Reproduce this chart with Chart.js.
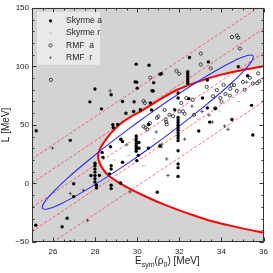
<!DOCTYPE html>
<html>
<head>
<meta charset="utf-8">
<script src="https://cdn.jsdelivr.net/npm/chart.js@4.4.0/dist/chart.umd.min.js"></script>
<style>
  html, body { margin: 0; padding: 0; background: #fff; }
  #wrap { width: 273px; height: 273px; }
</style>
</head>
<body>
<div id="wrap"><canvas id="grafico"></canvas></div>
<script>
// valores: [Esym (MeV), L (MeV)]
const skyrmeA = [
  [29.95,101.9],[27.99,80.6],[27.75,69.7],[29.9,86.7],[28.3,63.7],[29.85,69.8],[29.46,60],[28.84,50.2],
  [28.86,47.8],[25.2,45],[26.82,36.8],[28.33,26.5],[28.37,22.3],[27.99,17.3],[30.56,101],[31.08,93.2],
  [29.97,86.5],[30.78,86.1],[32.4,95.4],[32.4,93.5],[32.4,91.5],[32.4,89.5],[32.4,87.5],[32.4,85.6],
  [32.48,107.6],[33.38,103.8],[34.8,99.6],[35.24,92],[33.33,88.4],[31.15,93.7],[30.76,78.9],[30.68,62.8],
  [29.83,61.4],[30,81.4],[30.7,79.1],[31.94,77.2],[30.15,63],[30.62,68.7],[29.3,70],[28.76,75.7],[29.07,50.4],
  [29.95,40.5],[29.95,38.3],[29.95,36.2],[29.95,34],[29.95,31.8],[29.95,29.7],[29.95,27.5],[30.08,35],
  [30.08,30],[29.98,19.5],[29.22,37.8],[29.3,35.8],[28.73,31.3],[30.53,30.2],[31.07,32],[29.3,18.1],
  [30.54,50.4],[30.05,24],
  [31.94,56.3],[31.94,54.2],[31.94,52],[31.94,49.8],[31.94,47.6],[31.94,45.4],[31.94,43.2],[31.94,41],
  [31.94,38.8],[31.94,36.6],[31.94,27.9],[31.94,16.7],[31.94,13.5],[31.94,6],[31.78,63],[31.94,73],
  [32.45,72.4],[33.1,73],[33.33,64.5],[33.72,63.9],[33.44,52.4],[32.92,44.8],[34.5,54.6],[35.43,66.7],
  [35.49,41.4],[30.95,-7.5],
  [27.99,15.2],[27.99,12.4],[27.99,9.7],[27.99,6.8],[27.99,4],[27.99,1.2],[27.8,6.8],[28.2,6.8],
  [28.06,-1.6],[28.06,-3.8],[26.98,-0.2],[26.98,-11.4],[26.67,-29.7],[26.43,-37],[25.18,-35.6],
  [28.76,15.2],[28.76,12.4],[28.76,-1.6],[28.76,-4.4],[29.2,0.4],[28.68,8.2],[26.82,-50]
];
const skyrmeR = [
  [29.6,24],[30.8,38],[31.7,46],[32.9,55],[33.9,62],[30.3,15],[28.9,20],[34.8,70]
];
const rmfA = [
  [25.9,88.4],[30.62,90.3],[31.86,96.2],[31.99,93.7],[34.5,125],[34.73,126.4],[34.8,124.4],[34.88,115.2],
  [33.02,110.9],[33.02,101.6],[33.49,98.3],[35.35,90.3],[35.74,94],[34.1,84.2],[34.6,84],[35.7,85.6],
  [30.3,70.4],[30.36,68.7],[30.39,47.6],[30.47,46.2],[30.93,56],[31.35,54.6],[31.38,52.5],[31.4,50.4],
  [31.7,57.4],[32.17,61.6],[32.25,59.5],[32.09,68.7],[32.33,73],[32.64,71.5],[33.95,73],[34.42,80.8],
  [34.19,76.3],[34.73,79.1],[33.3,82.5],[33.78,79.7],[34.48,83.9],[35.02,86.7],[35.49,85.3],[35.8,87.3],
  [34,69.8],[33.7,64.2],[32.7,58.6],[32,61.4],[31.53,58.6],[31.3,62.8],[31,57.2],[30.6,51.5],[30.3,48.7],
  [33.6,74.5],[34.4,75],[35.1,80]
];
const rmfR = [
  [28.71,79.1],[25.97,30.2],[35.2,86.5],[31.15,31.3],[31.46,6.8],[34.15,49],[34.31,46.2],[33.57,52.4],
  [33.41,58.3],[27.44,-5.9],[26.82,-8.6],[27.64,-31.7],[29.22,0.4],[29.66,-7.2],[31.16,33.5],[31.4,20.9],
  [32.25,37.8],[33.08,61.4],[29.5,33],[30.9,44],[32.6,66]
];

// contorno vermelho grosso (ramo superior, ponta esquerda, ramo inferior)
const limiteUG = [
  [36,100],[34.9,96.5],[33.9,92.5],[32.9,87],[31.9,80],[31.0,71],[30.2,62],[29.7,57],[29.2,51],
  [28.75,43],[28.45,36],[28.24,30],[28.14,24],[28.2,18],[28.38,12],[28.65,6.5],[29.1,1],[29.7,-5],
  [30.5,-12],[31.2,-17.5],[32.0,-23],[32.8,-28],[33.5,-32],[34.3,-35.5],[35.1,-38.8],[36,-42]
];

// elipse azul
const elipse = [
  [30.12,53.5],[28.84,36.31],[27.67,19.62],[26.69,4.59],[25.98,-7.77],[25.57,-16.62],[25.5,-21.35],
  [25.77,-21.64],[26.36,-17.47],[27.23,-9.13],[28.33,2.82],[29.58,17.57],[30.89,34.1],[32.16,51.29],
  [33.33,67.98],[34.31,82.99],[35.02,95.37],[35.43,104.22],[35.5,108.95],[35.23,109.24],[34.64,105.07],
  [33.77,96.73],[32.67,84.78],[31.42,70.03],[30.12,53.5]
];

// retas tracejadas: L em Esym=25 e em Esym=36
const retasE = [25, 36];
const retasL = [[21, 153], [0.3, 132.3], [-20.4, 111.6], [-41, 91], [-62, 70]];

const xTicks = [26, 28, 30, 32, 34, 36];
const yTicks = [-50, 0, 50, 100, 150];
const xMenor = 0.5;
const yMenor = 10;

const FONTE = '"Liberation Sans", Arial, sans-serif';
Chart.defaults.font.family = FONTE;

const pts = arr => arr.map(p => ({x: p[0], y: p[1]}));

const datasets = [];
datasets.push({
  data: pts(limiteUG), showLine: true, tension: 0.3, pointRadius: 0,
  borderColor: '#ff0000', borderWidth: 2, backgroundColor: '#ffffff',
  fill: 'shape', order: 20, clip: 0
});
retasL.forEach(r => {
  datasets.push({
    data: [{x: retasE[0], y: r[0]}, {x: retasE[1], y: r[1]}],
    showLine: true, pointRadius: 0, borderColor: 'rgba(255,40,40,0.75)',
    borderWidth: 0.9, borderDash: [3, 2], fill: false, order: 15, clip: 0
  });
});
datasets.push({
  data: pts(elipse), showLine: true, tension: 0.4, pointRadius: 0,
  borderColor: '#2a2aff', borderWidth: 1.1, fill: false, order: 14, clip: 0
});
datasets.push({
  data: pts(skyrmeR), pointStyle: 'line', pointRadius: 1.6,
  borderColor: '#b5b5b5', borderWidth: 1, order: 5, clip: 0
});
datasets.push({
  data: pts(rmfR), pointStyle: 'cross', pointRadius: 1.8,
  borderColor: '#444', borderWidth: 0.8, order: 4, clip: 0
});
datasets.push({
  data: pts(rmfA), pointStyle: 'circle', pointRadius: 1.6,
  borderColor: '#333', borderWidth: 0.9, backgroundColor: 'rgba(0,0,0,0)', order: 3, clip: 0
});
datasets.push({
  data: pts(skyrmeA), pointStyle: 'circle', pointRadius: 1.7,
  borderColor: '#000', borderWidth: 0, backgroundColor: '#000', order: 2, clip: 0
});

// fundo cinza da area do grafico
const fundo = {
  id: 'fundo',
  beforeDatasetsDraw(chart) {
    const {ctx, chartArea: a} = chart;
    ctx.save();
    ctx.fillStyle = '#d3d3d3';
    ctx.fillRect(a.left, a.top, a.right - a.left, a.bottom - a.top);
    ctx.restore();
  }
};

// moldura, marcas internas, legenda e titulos
const moldura = {
  id: 'moldura',
  afterDraw(chart) {
    const {ctx, chartArea: a, scales: {x, y}} = chart;
    const l = Math.round(a.left) + 0.5, r = Math.round(a.right) - 0.5;
    const t = Math.round(a.top) + 0.5, b = Math.round(a.bottom) - 0.5;
    ctx.save();
    ctx.strokeStyle = '#333';
    ctx.lineWidth = 1;
    ctx.strokeRect(l, t, r - l, b - t);
    ctx.beginPath();
    for (let v = x.min; v <= x.max + 1e-9; v += xMenor) {
      const px = Math.round(x.getPixelForValue(v)) + 0.5;
      const len = xTicks.includes(v) ? 4 : 2;
      ctx.moveTo(px, b); ctx.lineTo(px, b - len);
      ctx.moveTo(px, t); ctx.lineTo(px, t + len);
    }
    for (let v = y.min; v <= y.max + 1e-9; v += yMenor) {
      const py = Math.round(y.getPixelForValue(v)) + 0.5;
      const len = yTicks.includes(v) ? 4 : 2;
      ctx.moveTo(l, py); ctx.lineTo(l + len, py);
      ctx.moveTo(r, py); ctx.lineTo(r - len, py);
    }
    ctx.stroke();

    // legenda
    const lx = a.left + 5, ly = a.top + 4;
    ctx.fillStyle = 'rgba(255,255,255,0.5)';
    ctx.fillRect(lx, ly, 63, 53);
    const itens = [
      {txt: 'Skyrme a', tipo: 'sa'},
      {txt: 'Skyrme r', tipo: 'sr'},
      {txt: 'RMF  a', tipo: 'ra'},
      {txt: 'RMF  r', tipo: 'rr'}
    ];
    ctx.font = '8.5px ' + FONTE;
    ctx.textBaseline = 'middle';
    itens.forEach((it, i) => {
      const my = ly + 9 + i * 12.3;
      const mx = lx + 13.5;
      if (it.tipo === 'sa') {
        ctx.fillStyle = '#000';
        ctx.beginPath(); ctx.arc(mx, my, 1.6, 0, Math.PI * 2); ctx.fill();
      } else if (it.tipo === 'sr') {
        ctx.strokeStyle = '#c0c0c0'; ctx.lineWidth = 1;
        ctx.beginPath(); ctx.moveTo(mx - 1.5, my); ctx.lineTo(mx + 1.5, my); ctx.stroke();
      } else if (it.tipo === 'ra') {
        ctx.strokeStyle = '#333'; ctx.lineWidth = 0.9;
        ctx.beginPath(); ctx.arc(mx, my, 1.6, 0, Math.PI * 2); ctx.stroke();
      } else {
        ctx.strokeStyle = '#666'; ctx.lineWidth = 0.8;
        ctx.beginPath();
        ctx.moveTo(mx - 1.5, my); ctx.lineTo(mx + 1.5, my);
        ctx.moveTo(mx, my - 1.5); ctx.lineTo(mx, my + 1.5);
        ctx.stroke();
      }
      ctx.fillStyle = '#222';
      ctx.fillText(it.txt, lx + 29, my);
    });

    // titulo do eixo x com subscritos
    ctx.fillStyle = '#222';
    ctx.textBaseline = 'alphabetic';
    ctx.textAlign = 'left';
    const partes = [['E', 10, 0], ['sym', 7, 2.5], ['(\u03c1', 10, 0], ['0', 7, 2.5], [') [MeV]', 10, 0]];
    let xx = 135;
    const base = 264;
    partes.forEach(p => {
      ctx.font = p[1] + 'px ' + FONTE;
      ctx.fillText(p[0], xx, base + p[2]);
      xx += ctx.measureText(p[0]).width;
    });

    // titulo do eixo y
    ctx.translate(9, (a.top + a.bottom) / 2);
    ctx.rotate(-Math.PI / 2);
    ctx.font = '10px ' + FONTE;
    ctx.textAlign = 'center';
    ctx.fillText('L [MeV]', 0, 0);
    ctx.restore();
  }
};

new Chart(document.getElementById('grafico'), {
  type: 'scatter',
  data: {datasets: datasets},
  options: {
    responsive: true,
    maintainAspectRatio: false,
    animation: false,
    events: [],
    layout: {padding: {left: 0, right: 4, top: 5, bottom: 0}},
    plugins: {legend: {display: false}, tooltip: {enabled: false}},
    scales: {
      x: {
        type: 'linear', min: 25, max: 36,
        afterBuildTicks: s => { s.ticks = xTicks.map(v => ({value: v})); },
        afterFit: s => { s.height = 31; },
        grid: {display: false, drawTicks: false},
        border: {display: false},
        ticks: {padding: 5, color: '#222', font: {size: 8}, maxRotation: 0, autoSkip: false}
      },
      y: {
        type: 'linear', min: -50, max: 150,
        afterBuildTicks: s => { s.ticks = yTicks.map(v => ({value: v})); },
        afterFit: s => { s.width = 32; },
        grid: {display: false, drawTicks: false},
        border: {display: false},
        ticks: {
          padding: 3, color: '#222', font: {size: 8}, autoSkip: false,
          callback: v => String(v).replace('-', '\u2212')
        }
      }
    }
  },
  plugins: [fundo, moldura]
});
</script>
</body>
</html>
